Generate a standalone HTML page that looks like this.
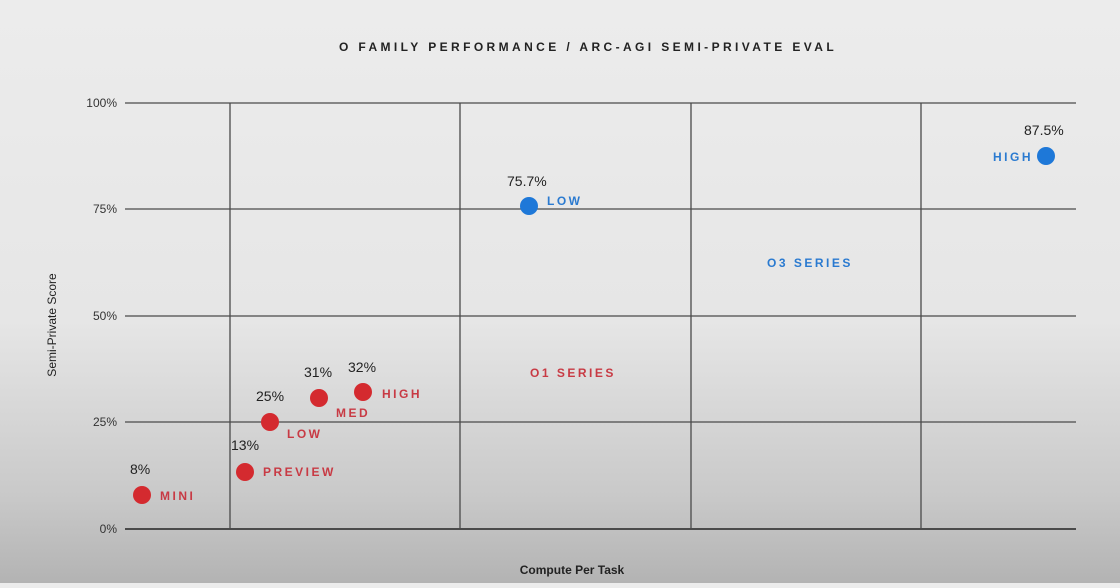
<!DOCTYPE html>
<html><head><style>
html,body{margin:0;padding:0;}
body{width:1120px;height:583px;overflow:hidden;background:linear-gradient(#ececec 0%,#e6e6e6 55%,#c9c9c9 85%,#b3b3b3 100%);font-family:"Liberation Sans",sans-serif;}
</style></head><body>
<svg width="1120" height="583" xmlns="http://www.w3.org/2000/svg" font-family="Liberation Sans, sans-serif">
<text x="588" y="51" text-anchor="middle" font-size="12" font-weight="bold" letter-spacing="3.4" fill="#222">O FAMILY PERFORMANCE / ARC-AGI SEMI-PRIVATE EVAL</text>
<g stroke="#4a4a4a" stroke-width="1.3">
<line x1="125" y1="103" x2="1076" y2="103"/>
<line x1="125" y1="209" x2="1076" y2="209"/>
<line x1="125" y1="316" x2="1076" y2="316"/>
<line x1="125" y1="422" x2="1076" y2="422"/>
<line x1="125" y1="529" x2="1076" y2="529" stroke-width="2"/>
<line x1="230" y1="103" x2="230" y2="529"/>
<line x1="460" y1="103" x2="460" y2="529"/>
<line x1="691" y1="103" x2="691" y2="529"/>
<line x1="921" y1="103" x2="921" y2="529"/>
</g>
<g font-size="12" fill="#333" text-anchor="end">
<text x="117" y="107">100%</text><text x="117" y="213">75%</text><text x="117" y="320">50%</text><text x="117" y="426">25%</text><text x="117" y="533">0%</text>
</g>
<text transform="translate(56,325) rotate(-90)" text-anchor="middle" font-size="12" fill="#222">Semi-Private Score</text>
<text x="572" y="574" text-anchor="middle" font-size="12" font-weight="bold" fill="#222">Compute Per Task</text>
<g fill="#d42a2f">
<circle cx="142" cy="495" r="9"/><circle cx="245" cy="472" r="9"/><circle cx="270" cy="422" r="9"/><circle cx="319" cy="398" r="9"/><circle cx="363" cy="392" r="9"/>
</g>
<g fill="#1e78d8"><circle cx="529" cy="206" r="9"/><circle cx="1046" cy="156" r="9"/></g>
<g font-size="14" fill="#222">
<text x="130" y="474">8%</text><text x="231" y="450">13%</text><text x="256" y="401">25%</text><text x="304" y="377">31%</text><text x="348" y="372">32%</text>
<text x="507" y="186">75.7%</text><text x="1024" y="135">87.5%</text>
</g>
<g font-size="12" font-weight="bold" letter-spacing="2.5" fill="#c83a44">
<text x="160" y="500">MINI</text><text x="263" y="476">PREVIEW</text><text x="287" y="438">LOW</text><text x="336" y="417">MED</text><text x="382" y="398">HIGH</text>
<text x="530" y="377">O1 SERIES</text>
</g>
<g font-size="12" font-weight="bold" letter-spacing="2.5" fill="#2a7ad0">
<text x="547" y="205">LOW</text><text x="993" y="161">HIGH</text><text x="767" y="267">O3 SERIES</text>
</g>
</svg>
</body></html>
